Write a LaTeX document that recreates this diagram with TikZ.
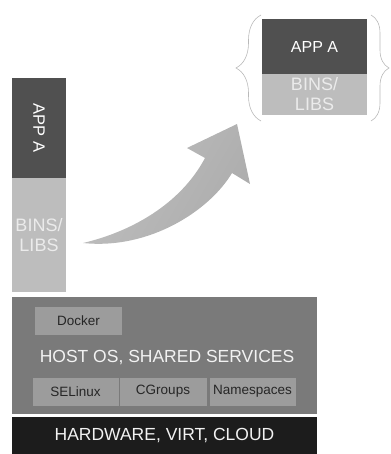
\documentclass[tikz,border=0pt]{standalone}
\usepackage{fontspec}
\setmainfont{Liberation Sans}
\usetikzlibrary{decorations.pathreplacing}
\definecolor{appgray}{HTML}{505050}
\definecolor{libgray}{HTML}{BDBDBD}
\definecolor{osgray}{HTML}{7A7A7A}
\definecolor{boxgray}{HTML}{9C9C9C}
\definecolor{hwgray}{HTML}{1C1C1C}
\begin{document}
\begin{tikzpicture}[x=1pt,y=-1pt]
% Block styles
\tikzset{
    blk/.style={inner sep=0pt, align=center},
    app/.style={blk, fill=appgray, text=white, font=\fontsize{16}{18}\selectfont},
    libs/.style={blk, fill=libgray, text=white!92!black, font=\fontsize{18}{20}\selectfont},
    tool/.style={blk, fill=boxgray, draw=osgray, line width=0.8pt, text=black!85,
        minimum height=29pt, font=\fontsize{13.5}{15}\selectfont},
    bigtext/.style={text=white!95!black, font=\fontsize{17.5}{20}\selectfont}
}
\useasboundingbox (0,0) rectangle (390,454);
% Left stack
\node[app, minimum width=54pt, minimum height=100pt] (appa) at (39,128){};
\node[rotate=-90, text=white, font=\fontsize{16.5}{18}\selectfont] (appatxt) at (appa.center){APP A};
\node[libs, minimum width=54pt, minimum height=114pt] (libsa) at (39,235){BINS/\\LIBS};
% Host
\node[blk, fill=osgray, minimum width=305pt, minimum height=117pt] (host) at (164.5,355.5){};
\node[tool, minimum width=87pt, minimum height=28pt, draw=none] (docker) at (78.5,321){Docker};
\node[bigtext] (hosttxt) at (167,358){HOST OS, SHARED SERVICES};
\node[tool, minimum width=87pt] (selinux) at (75.5,391.5){SELinux};
\node[tool, minimum width=88pt] (cgroups) at (163,391.5){CGroups};
\node[tool, minimum width=87pt] (names) at (252.5,391.5){Namespaces};
\node[blk, fill=hwgray, minimum width=305pt, minimum height=37pt] (hw) at (164.5,435.5){};
\node[bigtext] (hwtxt) at (hw.center){HARDWARE, VIRT, CLOUD};
% Container
\node[app, minimum width=105pt, minimum height=55pt] (appb) at (314.5,46.5){APP A};
\node[libs, minimum width=105pt, minimum height=41pt] (libsb) at (314.5,94.5){BINS/\\LIBS};
\draw[gray!55, line width=0.6pt, decorate, decoration={brace, amplitude=25pt}]
    (261,121) -- (261,15);
\draw[gray!55, line width=0.6pt, decorate, decoration={brace, amplitude=18pt}]
    (371,15) -- (371,121);
% Arrow
\shade[left color=gray!50, right color=gray!65, shading angle=60]
    (83,243) .. controls (150,250) and (210,210) .. (232,173)
    -- (250,184) -- (237,124) -- (187,148) -- (205,158)
    .. controls (180,205) and (130,232) .. (83,243) -- cycle;
\end{tikzpicture}
\end{document}
